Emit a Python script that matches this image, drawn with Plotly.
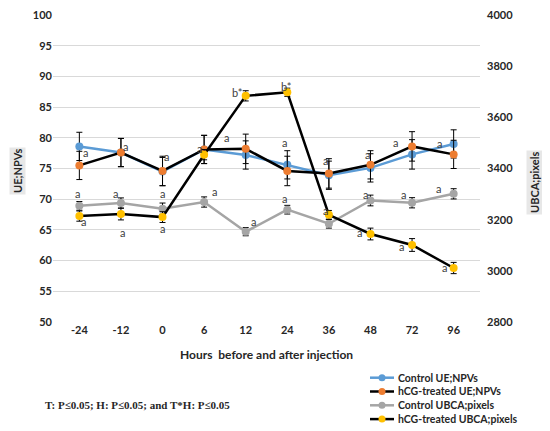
import plotly.graph_objects as go

# DATA
hours = ["-24", "-12", "0", "6", "12", "24", "36", "48", "72", "96"]

control_ue = [78.6, 77.6, 74.5, 78.1, 77.2, 75.6, 73.9, 75.1, 77.3, 79.0]
control_ue_err = [2.3, 2.3, 2.3, 2.3, 2.3, 2.3, 2.3, 2.3, 2.4, 2.3]

hcg_ue = [75.5, 77.6, 74.6, 78.1, 78.2, 74.6, 74.2, 75.6, 78.6, 77.3]
hcg_ue_err = [2.3, 2.3, 2.4, 2.3, 2.4, 2.4, 2.4, 2.3, 2.4, 2.3]

control_ubca = [3254, 3265, 3243, 3269, 3153, 3239, 3184, 3275, 3266, 3301]
control_ubca_err = [17, 20, 22, 20, 16, 17, 17, 21, 20, 20]

hcg_ubca = [3214, 3222, 3210, 3454, 3684, 3698, 3219, 3144, 3101, 3011]
hcg_ubca_err = [20, 23, 21, 20, 20, 16, 17, 23, 25, 22]

# significance letters: (x index, y on UE axis, text)
letters = [
    (0.15, 77.6, "a"), (1.12, 78.6, "a"), (2.1, 77.0, "a"), (2.9, 78.3, "a"),
    (3.54, 80.0, "a"), (4.93, 79.2, "a"), (5.91, 76.3, "a"), (6.94, 77.3, "a"),
    (7.59, 79.3, "a"), (8.66, 79.1, "a"),
    (-0.05, 71.0, "a"), (0.87, 70.9, "a"), (1.99, 70.9, "a"), (3.24, 71.2, "a"),
    (4.18, 66.4, "a"), (4.93, 70.1, "a"), (6.88, 70.7, "a"), (7.8, 70.8, "a"),
    (8.64, 71.7, "a"),
    (0.11, 66.4, "a"), (1.03, 64.5, "a"), (1.99, 65.3, "a"), (3.8, 87.4, "b*"),
    (4.97, 88.4, "b*"), (5.93, 68.1, "a"), (6.74, 64.5, "a"), (7.74, 62.3, "a"),
    (8.77, 58.9, "a"),
]

FONT = "Lato"
TXT = "#262626"

# the page puts the figure 8px in from the window corner
OFF = 8
W, H = 550 - OFF, 431 - OFF
L, R, T, B = 53 - OFF, 70, 7, 109
pw, ph = W - L - R, H - T - B


def px_x(v):
    # window pixel -> paper x
    return (v - OFF - L) / pw


def px_y(v):
    # window pixel -> paper y
    return (H - B - (v - OFF)) / ph


def err(vals):
    return dict(type="data", array=vals, visible=True, color="black",
                thickness=1, width=3)


series = [
    ("Control UE;NPVs", control_ue, control_ue_err, "y", "#5b9bd5", "#5b9bd5"),
    ("hCG-treated UE;NPVs", hcg_ue, hcg_ue_err, "y", "black", "#ed7d31"),
    ("Control UBCA;pixels", control_ubca, control_ubca_err, "y2", "#a5a5a5", "#a5a5a5"),
    ("hCG-treated UBCA;pixels", hcg_ubca, hcg_ubca_err, "y2", "black", "#ffc000"),
]

fig = go.Figure()

for name, vals, errs, axis, lc, mc in series:
    fig.add_trace(go.Scatter(
        x=hours, y=vals, name=name, mode="lines+markers", yaxis=axis,
        line=dict(color=lc, width=2.5),
        marker=dict(color=mc, size=8),
        error_y=err(errs)
    ))

for lx, ly, lt in letters:
    fig.add_annotation(x=lx, y=ly, xref="x", yref="y", text=lt,
                       showarrow=False, font=dict(family=FONT, size=11, color="#404040"))


def note(x, y, text, size=11, angle=0, bg=None, anchor="center", family=FONT):
    fig.add_annotation(x=px_x(x), y=px_y(y), xref="paper", yref="paper",
                       xanchor=anchor, yanchor="middle", text=text, textangle=angle,
                       showarrow=False, bgcolor=bg,
                       font=dict(family=family, size=size, color=TXT))


# axis titles in grey boxes
note(17, 171, "<b>UE;NPVs</b>", angle=-90, bg="#e7e7e7")
note(534, 183, "<b>UBCA;pixels</b>", angle=-90, bg="#e7e7e7")
note(266, 354, "<b>Hours  before and after injection</b>", size=12)
note(43, 405, "<b>T: P≤0.05; H: P≤0.05; and T*H: P≤0.05</b>", size=11,
     anchor="left", family="Liberation Serif")

# hand-made legend (plotly's own legend is too tall for this space)
for i, (name, vals, errs, axis, lc, mc) in enumerate(series):
    ly = 377.7 + i * 13.8
    fig.add_shape(type="line", xref="paper", yref="paper",
                  x0=px_x(370), x1=px_x(394), y0=px_y(ly), y1=px_y(ly),
                  line=dict(color=lc, width=2.5))
    fig.add_shape(type="circle", xref="paper", yref="paper",
                  x0=px_x(378.5), x1=px_x(385.5), y0=px_y(ly - 3.5), y1=px_y(ly + 3.5),
                  fillcolor=mc, line=dict(width=0))
    note(396, ly, "<b>" + name + "</b>", size=10.5, anchor="left")

fig.update_layout(
    width=W, height=H,
    margin=dict(l=L, r=R, t=T, b=B, autoexpand=False),
    plot_bgcolor="white", paper_bgcolor="white",
    font=dict(family=FONT, color=TXT),
    showlegend=False,
    xaxis=dict(showgrid=False, showline=False, zeroline=False, ticks="",
               tickfont=dict(size=11, family=FONT, color=TXT),
               tickprefix="<b>", ticksuffix="</b>"),
    yaxis=dict(range=[50, 100], dtick=5, gridcolor="#d9d9d9", zeroline=False,
               tickfont=dict(size=11, color=TXT), tickprefix="<b>", ticksuffix="</b>",
               ticklabeloverflow="allow"),
    yaxis2=dict(range=[2800, 4000], dtick=200, overlaying="y", side="right",
                showgrid=False, zeroline=False, tickfont=dict(size=11, color=TXT),
                tickprefix="<b>", ticksuffix="</b>", ticklabelstandoff=6,
                ticklabeloverflow="allow"),
)

fig.write_html("out.html")
